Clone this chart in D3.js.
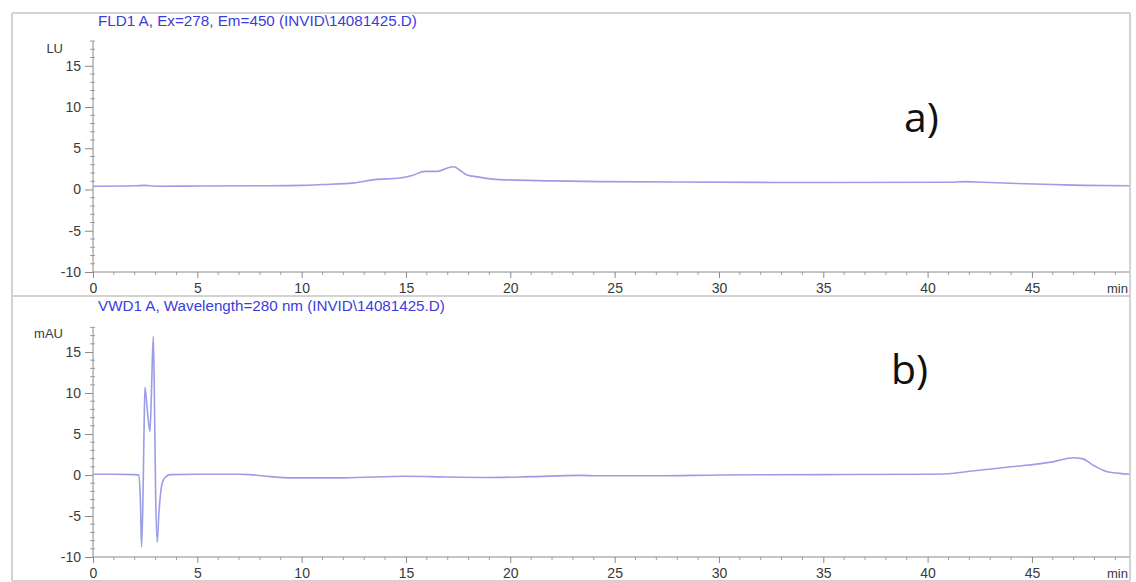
<!DOCTYPE html>
<html>
<head>
<meta charset="utf-8">
<script src="https://cdn.jsdelivr.net/npm/d3@7"></script>
<style>
  html, body { margin: 0; padding: 0; background: #fff; }
  svg { display: block; }
</style>
</head>
<body>
<script>
// Retention time in minutes and detector response for each trace
const fldTime = [0, 2, 2.5, 3, 5, 8, 10, 11, 12.5, 13.5, 14.7, 15.3, 15.9, 16.5, 17.1, 17.3, 17.6, 17.9, 18.5, 19.5, 22, 24.3, 28, 35, 41, 41.8, 42.3, 44, 46, 47.5, 49.7];
const fldSignal = [0.4, 0.45, 0.5, 0.4, 0.42, 0.45, 0.5, 0.6, 0.8, 1.2, 1.4, 1.7, 2.2, 2.2, 2.7, 2.75, 2.3, 1.8, 1.5, 1.2, 1.05, 0.95, 0.9, 0.85, 0.88, 0.95, 0.9, 0.75, 0.6, 0.5, 0.45];

const vwdTime = [0, 1, 2.0, 2.2, 2.27, 2.33, 2.4, 2.45, 2.49, 2.6, 2.73, 2.8, 2.89, 2.95, 3.0, 3.08, 3.15, 3.25, 3.37, 3.5, 3.7, 5, 7, 7.5, 8.5, 9.5, 12, 15, 17, 19, 21, 23.3, 24.3, 27, 30, 35, 40, 41, 42, 44, 46, 47, 47.4, 48, 48.5, 49.2, 49.7];
const vwdSignal = [0.1, 0.1, 0.05, 0.0, -3, -8.8, -2, 6, 10.7, 8, 5.3, 10, 16.9, 8, -2, -8.2, -5, -2, -0.6, -0.2, 0.05, 0.1, 0.1, 0.05, -0.2, -0.35, -0.35, -0.15, -0.25, -0.3, -0.2, -0.05, -0.1, -0.1, 0.0, 0.05, 0.1, 0.15, 0.45, 1.0, 1.6, 2.1, 2.0, 1.1, 0.5, 0.2, 0.1];

const xTicks = [0, 5, 10, 15, 20, 25, 30, 35, 40, 45];
const yTicks = [-10, -5, 0, 5, 10, 15];

const panels = [
  { title: "FLD1 A, Ex=278, Em=450 (INVID\\14081425.D)", unit: "LU", tag: "a)", t: fldTime, v: fldSignal },
  { title: "VWD1 A, Wavelength=280 nm (INVID\\14081425.D)", unit: "mAU", tag: "b)", t: vwdTime, v: vwdSignal }
];

const W = 1136, H = 582;
const svg = d3.select("body").append("svg").attr("width", W).attr("height", H);

const frame = { left: 12, right: 1130, top: 13, split: 296, bottom: 581 };
const axisX0 = 93;

svg.append("defs").append("clipPath").attr("id", "frameClip")
  .append("rect").attr("x", frame.left).attr("y", 0)
  .attr("width", frame.right - frame.left).attr("height", H);

const x = d3.scaleLinear().domain([0, 49.7]).range([axisX0, frame.right]);

// panel layouts: y-range of the axis and text baselines
const layout = [
  { yBottom: 272, yTop: 41, titleY: 25.5, unitY: 53, tagX: 904, tagY: 132 },
  { yBottom: 557, yTop: 327.4, titleY: 311, unitY: 338, tagX: 891, tagY: 384 }
];

const lineColor = "#9c9de6";
const axisColor = "#8a8a8a";
const textColor = "#3a3a3a";
const fmt = d => String(d);

panels.forEach((p, i) => {
  const L = layout[i];
  const g = svg.append("g").attr("clip-path", "url(#frameClip)");
  const y = d3.scaleLinear().domain([-10, 18]).range([L.yBottom, L.yTop]);

  // title
  const title = g.append("text")
    .attr("x", 98).attr("y", L.titleY)
    .attr("font-family", "Liberation Sans, Arial, sans-serif")
    .attr("font-size", 12)
    .attr("fill", "#3c3cdc")
    .text(p.title);
  const targetW = i === 0 ? 319 : 347;
  const w = title.node().getComputedTextLength();
  title.attr("font-size", 12 * targetW / w);

  // y axis
  const yAxis = d3.axisLeft(y).tickValues(yTicks).tickSize(8).tickPadding(4).tickFormat(fmt);
  const ya = g.append("g").attr("transform", `translate(${axisX0},0)`).call(yAxis);
  ya.select(".domain").remove();
  g.append("line").attr("x1", axisX0).attr("x2", axisX0)
    .attr("y1", y(-10)).attr("y2", y(18)).attr("stroke", axisColor);
  // minor y ticks
  g.append("g").selectAll("line").data(d3.range(-10, 19).filter(d => d % 5 !== 0))
    .join("line")
    .attr("x1", axisX0 - 3).attr("x2", axisX0 + 2)
    .attr("y1", d => y(d)).attr("y2", d => y(d))
    .attr("stroke", axisColor).attr("stroke-width", 0.8);

  // x axis
  const xAxis = d3.axisBottom(x).tickValues(xTicks).tickSize(6).tickPadding(5).tickFormat(fmt);
  const xa = g.append("g").attr("transform", `translate(0,${y(-10)})`).call(xAxis);
  xa.select(".domain").remove();
  g.append("line").attr("x1", axisX0).attr("x2", frame.right)
    .attr("y1", y(-10)).attr("y2", y(-10)).attr("stroke", axisColor);
  g.append("g").selectAll("line").data(d3.range(1, 50).filter(d => d % 5 !== 0))
    .join("line")
    .attr("x1", d => x(d)).attr("x2", d => x(d))
    .attr("y1", y(-10)).attr("y2", y(-10) + 3)
    .attr("stroke", axisColor).attr("stroke-width", 0.8);

  [ya, xa].forEach(a => {
    a.selectAll(".tick line").attr("stroke", axisColor);
    a.selectAll(".tick text")
      .attr("font-family", "Liberation Sans, Arial, sans-serif")
      .attr("font-size", 14).attr("fill", textColor);
  });

  // x unit
  g.append("text").attr("x", 1107).attr("y", y(-10) + 21)
    .attr("font-family", "Liberation Sans, Arial, sans-serif")
    .attr("font-size", 13).attr("fill", textColor).text("min");

  // y unit
  g.append("text").attr("x", 63).attr("y", L.unitY).attr("text-anchor", "end")
    .attr("font-family", "Liberation Sans, Arial, sans-serif")
    .attr("font-size", 13).attr("fill", textColor).text(p.unit);

  // trace
  const line = d3.line()
    .x((d, k) => x(p.t[k]))
    .y(d => y(d))
    .curve(d3.curveMonotoneX);
  g.append("path").datum(p.v)
    .attr("d", line)
    .attr("fill", "none")
    .attr("stroke", lineColor)
    .attr("stroke-width", 1.6)
    .attr("stroke-linejoin", "round");

  // panel tag
  svg.append("text").attr("x", L.tagX).attr("y", L.tagY)
    .attr("font-family", "Open Sans, Liberation Sans, sans-serif")
    .attr("font-size", 41).attr("fill", "#111").text(p.tag);
});

// frame lines
const fr = svg.append("g").attr("stroke", "#c4c4c4").attr("stroke-width", 1.5);
fr.append("line").attr("x1", frame.left).attr("x2", frame.right).attr("y1", frame.top).attr("y2", frame.top);
fr.append("line").attr("x1", frame.left).attr("x2", frame.right).attr("y1", frame.split).attr("y2", frame.split);
fr.append("line").attr("x1", frame.left).attr("x2", frame.right).attr("y1", frame.bottom).attr("y2", frame.bottom);
fr.append("line").attr("x1", frame.left).attr("x2", frame.left).attr("y1", frame.top).attr("y2", frame.bottom);
fr.append("line").attr("x1", frame.right).attr("x2", frame.right).attr("y1", frame.top).attr("y2", frame.bottom);
</script>
</body>
</html>
